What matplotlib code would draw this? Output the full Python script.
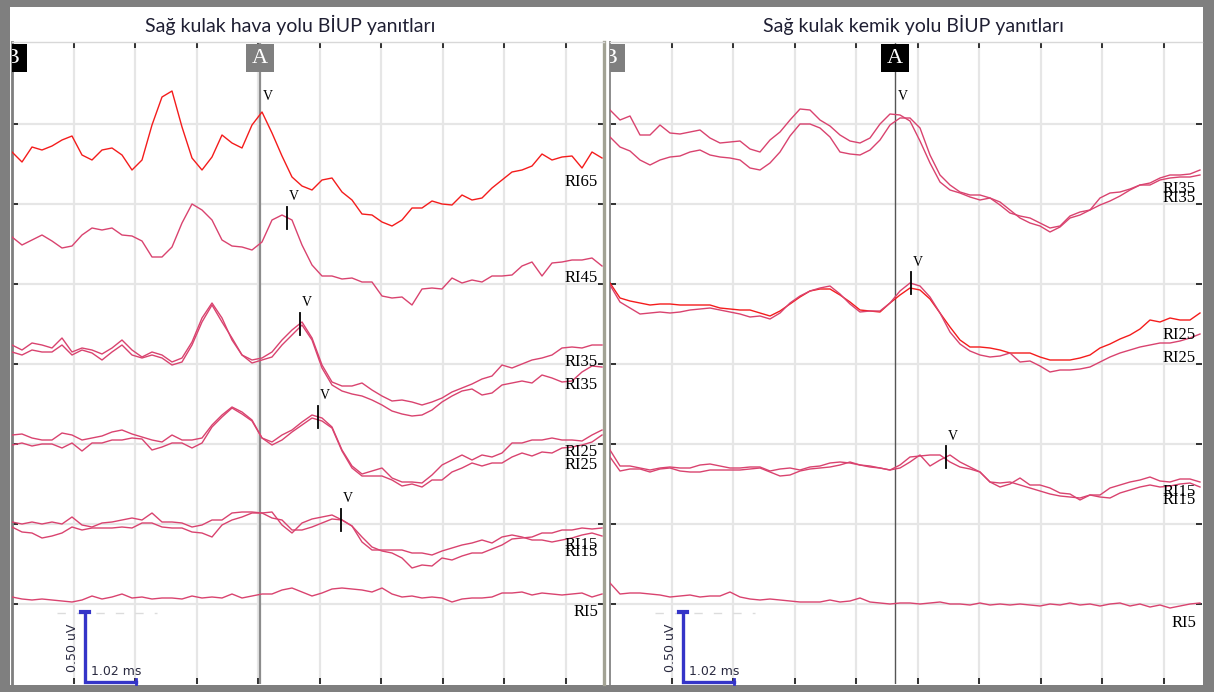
import numpy as np
import matplotlib.pyplot as plt
from matplotlib.patches import Rectangle

# sample times (ms), one reading every 0.2 ms
T_MS = np.arange(60) * 0.2

# --- air conduction (hava yolu) traces, vertical position in screen rows ---
air_ri65 = [152, 162, 147, 150, 146, 140, 136, 155, 160, 150,
            148, 155, 170, 160, 125, 97, 91, 127, 158, 170,
            157, 135, 143, 148, 125, 112, 133, 156, 177, 186,
            190, 180, 178, 192, 200, 214, 215, 222, 226, 220,
            208, 208, 201, 204, 205, 195, 200, 198, 188, 180,
            172, 170, 166, 154, 160, 157, 156, 168, 152, 158]
air_ri45 = [237, 245, 240, 235, 241, 248, 246, 235, 228, 230,
            228, 235, 236, 241, 257, 257, 247, 223, 204, 210,
            220, 240, 246, 247, 250, 242, 220, 215, 220, 245,
            265, 276, 276, 279, 278, 282, 282, 296, 298, 297,
            305, 289, 288, 289, 278, 283, 280, 282, 276, 276,
            275, 266, 262, 276, 263, 262, 260, 260, 258, 266]
air_ri35_a = [345, 350, 343, 345, 348, 338, 352, 348, 350, 354,
              348, 340, 350, 357, 352, 355, 362, 358, 342, 318,
              303, 318, 340, 355, 360, 358, 352, 340, 330, 322,
              338, 365, 382, 386, 386, 383, 390, 396, 401, 400,
              402, 405, 402, 398, 392, 388, 384, 379, 376, 365,
              368, 364, 360, 358, 355, 348, 347, 348, 345, 345]
air_ri35_b = [352, 355, 350, 352, 352, 345, 355, 350, 353, 360,
              352, 345, 355, 358, 355, 358, 365, 362, 345, 322,
              305, 322, 338, 355, 363, 360, 357, 345, 335, 325,
              340, 368, 385, 391, 394, 396, 400, 405, 411, 414,
              416, 415, 410, 402, 396, 391, 389, 395, 393, 385,
              383, 381, 383, 375, 378, 382, 381, 372, 366, 367]
air_ri25_a = [435, 434, 438, 440, 440, 433, 435, 440, 438, 436,
              432, 430, 434, 437, 440, 442, 435, 440, 440, 438,
              425, 415, 407, 412, 420, 438, 442, 435, 430, 422,
              415, 418, 427, 450, 466, 474, 471, 468, 478, 482,
              482, 483, 475, 465, 460, 455, 460, 455, 457, 453,
              443, 443, 440, 440, 438, 440, 440, 441, 435, 430]
air_ri25_b = [445, 443, 446, 444, 444, 448, 443, 451, 443, 443,
              440, 440, 438, 439, 450, 447, 443, 443, 448, 443,
              427, 417, 408, 414, 421, 438, 445, 440, 432, 425,
              418, 421, 428, 451, 468, 476, 476, 476, 480, 486,
              484, 487, 480, 480, 472, 468, 463, 466, 463, 463,
              457, 453, 456, 452, 453, 448, 447, 445, 442, 435]
air_ri15_a = [522, 524, 522, 524, 522, 524, 517, 525, 527, 523,
              522, 520, 518, 520, 513, 522, 522, 523, 527, 525,
              520, 520, 513, 512, 512, 513, 512, 525, 533, 523,
              519, 517, 515, 520, 526, 537, 547, 551, 553, 558,
              568, 565, 566, 558, 560, 556, 553, 553, 549, 545,
              539, 538, 537, 533, 533, 530, 530, 528, 529, 528]
air_ri15_b = [527, 532, 533, 538, 536, 533, 527, 530, 528, 528,
              528, 527, 528, 523, 523, 527, 528, 528, 532, 533,
              537, 525, 520, 517, 513, 513, 518, 520, 530, 530,
              527, 523, 519, 520, 526, 542, 550, 550, 550, 550,
              553, 553, 555, 551, 548, 545, 543, 540, 543, 537,
              535, 537, 540, 540, 542, 540, 538, 535, 533, 536]
air_ri5 = [597, 599, 600, 599, 600, 601, 602, 600, 596, 599,
           597, 594, 598, 597, 599, 598, 598, 599, 596, 598,
           597, 598, 594, 598, 596, 594, 594, 590, 588, 592,
           596, 593, 589, 588, 589, 590, 592, 588, 594, 597,
           596, 598, 597, 598, 602, 599, 598, 598, 597, 593,
           593, 592, 595, 593, 594, 595, 594, 593, 597, 594]

# --- bone conduction (kemik yolu) traces ---
bone_ri35_a = [110, 120, 116, 135, 135, 125, 133, 134, 132, 130,
               138, 143, 142, 141, 149, 152, 140, 132, 120, 109,
               110, 120, 126, 135, 141, 143, 138, 124, 114, 115,
               121, 141, 163, 182, 190, 193, 197, 200, 198, 205,
               213, 216, 218, 223, 228, 226, 216, 212, 210, 198,
               193, 192, 189, 185, 183, 178, 175, 175, 174, 170]
bone_ri35_b = [137, 147, 151, 160, 165, 160, 157, 156, 152, 150,
               155, 157, 158, 160, 168, 170, 163, 152, 136, 124,
               124, 128, 137, 152, 154, 155, 150, 140, 125, 118,
               118, 128, 155, 175, 185, 192, 195, 195, 198, 202,
               210, 218, 223, 226, 232, 227, 218, 215, 210, 205,
               201, 196, 190, 185, 185, 180, 178, 177, 177, 175]
bone_ri25_a = [283, 298, 301, 303, 305, 304, 304, 305, 305, 305,
               305, 308, 309, 310, 310, 313, 316, 311, 304, 297,
               291, 289, 289, 295, 302, 310, 311, 312, 303, 295,
               288, 290, 299, 313, 327, 340, 347, 347, 348, 350,
               353, 353, 353, 357, 360, 360, 360, 358, 355, 348,
               344, 339, 335, 329, 320, 322, 318, 320, 320, 313]
bone_ri25_b = [285, 302, 308, 314, 313, 312, 313, 312, 310, 309,
               308, 310, 312, 314, 317, 316, 319, 313, 303, 296,
               291, 288, 286, 294, 304, 312, 311, 311, 303, 291,
               283, 286, 297, 313, 332, 344, 351, 355, 357, 356,
               353, 362, 361, 366, 372, 370, 370, 369, 367, 362,
               357, 353, 350, 347, 345, 343, 343, 341, 338, 334]
bone_ri15_a = [450, 466, 466, 468, 470, 468, 467, 468, 468, 465,
               464, 466, 468, 468, 467, 467, 471, 469, 468, 470,
               467, 466, 463, 462, 463, 465, 467, 468, 470, 465,
               457, 456, 455, 455, 462, 467, 469, 472, 482, 483,
               482, 485, 488, 491, 494, 496, 497, 498, 495, 495,
               488, 485, 482, 480, 477, 481, 482, 479, 479, 482]
bone_ri15_b = [457, 471, 469, 469, 472, 469, 468, 471, 472, 472,
               470, 470, 470, 470, 469, 468, 472, 476, 475, 471,
               469, 468, 467, 465, 462, 465, 466, 468, 470, 468,
               462, 455, 466, 460, 455, 462, 467, 472, 482, 487,
               484, 478, 485, 485, 488, 493, 494, 500, 495, 497,
               498, 493, 490, 487, 485, 487, 486, 484, 483, 487]
bone_ri5 = [583, 594, 593, 593, 594, 595, 597, 596, 595, 597,
            596, 596, 592, 597, 599, 600, 599, 600, 601, 602,
            602, 602, 600, 602, 601, 598, 602, 603, 604, 603,
            603, 604, 603, 602, 604, 604, 605, 603, 605, 604,
            605, 604, 605, 606, 604, 605, 603, 605, 604, 606,
            604, 603, 606, 604, 607, 605, 608, 606, 604, 603]

# wave V latencies (ms) and whether a latency tick is drawn
AIR_V_MS = [4.96, 5.50, 5.76, 6.12, 6.58]
AIR_V_TICK = [False, True, True, True, True]
BONE_V_MS = [5.70, 6.02, 6.72]
BONE_V_TICK = [False, True, True]

SCALE_UV = "0.50 uV"
SCALE_MS = 1.02

RED = "#f41c1c"
PINK = "#d9436f"

# layout
W, H = 1214, 692
X_MAX = 11.84
ROW_TOP, ROW_BOTTOM = 42, 684
GRID_MS = 1.23
UV_BAR_ROWS = 71
AIR_LABEL_ROWS = [182, 278, 362, 385, 452, 465, 545, 552, 612]
BONE_LABEL_ROWS = [189, 198, 335, 358, 492, 500, 623]


def draw_panel(ax, groups, colors, label_rows, v_ms, v_tick, cursor_ms,
               cursor_col, cursor_lw, a_box_col, b_box_col):
    ax.set_xlim(0, X_MAX)
    ax.set_ylim(ROW_BOTTOM, ROW_TOP)
    ax.set_xticks(np.arange(1, 10) * GRID_MS)
    ax.set_yticks(np.arange(124, 605, 80))
    ax.grid(color="#e6e6e6", lw=1.6, zorder=0)
    ax.tick_params(direction="in", length=4.5, width=1.1, color="black",
                   top=True, right=True, labelleft=False, labelbottom=False)
    ax.set_axisbelow(True)

    k = 0
    for gi, (name, traces) in enumerate(groups):
        for tr in traces:
            ax.plot(T_MS, tr, color=colors[k], lw=1.0, zorder=3)
            ax.text(X_MAX - 0.12, label_rows[k], name, ha="right", va="center",
                    fontsize=12, family="Liberation Serif", color="black", zorder=5)
            k += 1
        if gi < len(v_ms):
            t = v_ms[gi]
            yv = min(np.interp(t, T_MS, tr) for tr in traces)
            if v_tick[gi]:
                ax.plot([t, t], [yv - 11, yv + 11], color="black", lw=1.3, zorder=5)
                ax.text(t + 0.13, yv - 21, "V", ha="center", va="center",
                        fontsize=10, family="Liberation Serif", zorder=5)
            else:
                ax.text(t + 0.16, yv - 18, "V", ha="center", va="center",
                        fontsize=10, family="Liberation Serif", zorder=5)

    # cursor A
    ax.axvline(cursor_ms, color=cursor_col, lw=cursor_lw, zorder=2.5)
    ax.add_patch(Rectangle((cursor_ms - 0.28, 44), 0.56, 28, facecolor=a_box_col,
                           edgecolor="none", zorder=6))
    ax.text(cursor_ms, 58.5, "A", ha="center", va="center", color="white",
            fontsize=16, family="Liberation Serif", zorder=7)
    # cursor B (mostly off the left edge)
    ax.add_patch(Rectangle((-0.3, 44), 0.6, 28, facecolor=b_box_col,
                           edgecolor="none", zorder=6))
    ax.text(0.0, 58.5, "B", ha="center", va="center", color="white",
            fontsize=16, family="Liberation Serif", zorder=7, clip_on=True)

    # scale bar
    bx, by0, by1 = 1.46, 612, 612 + UV_BAR_ROWS
    ax.plot([0.9, 2.9], [by0 + 1, by0 + 1], color="#dcdcdc", lw=1, ls=(0, (6, 8)), zorder=1)
    ax.plot([bx, bx, bx + SCALE_MS], [by0, by1 - 1, by1 - 1], color="#3434c8", lw=2.4,
            solid_joinstyle="miter", clip_on=False, zorder=6)
    ax.plot([bx - 0.08, bx + 0.08], [by0, by0], color="#3434c8", lw=3, clip_on=False, zorder=6)
    ax.plot([bx + SCALE_MS] * 2, [by1 - 4, by1 + 1], color="#3434c8", lw=2,
            clip_on=False, zorder=6)
    ax.text(bx - 0.25, by0 + 36, SCALE_UV, rotation=90, ha="center", va="center",
            fontsize=9, color="#2a2a40", zorder=6)
    ax.text(bx + 0.12, by1 - 12, f"{SCALE_MS:.2f} ms", ha="left", va="center",
            fontsize=9, color="#2a2a40", zorder=6)


fig = plt.figure(figsize=(W / 100, H / 100), dpi=100, facecolor="#7f7f7f")
fig.add_artist(Rectangle((10 / W, 7 / H), 1193 / W, 678 / H, transform=fig.transFigure,
                         facecolor="white", edgecolor="none", zorder=0))

ax_air = fig.add_axes([12 / W, 8 / H, 592 / W, 642 / H])
ax_bone = fig.add_axes([610 / W, 8 / H, 592 / W, 642 / H])

air_groups = [("RI65", [air_ri65]), ("RI45", [air_ri45]),
              ("RI35", [air_ri35_a, air_ri35_b]), ("RI25", [air_ri25_a, air_ri25_b]),
              ("RI15", [air_ri15_a, air_ri15_b]), ("RI5", [air_ri5])]
air_colors = [RED] + [PINK] * 8
draw_panel(ax_air, air_groups, air_colors, AIR_LABEL_ROWS, AIR_V_MS, AIR_V_TICK,
           4.96, "#8c8c8c", 1.6, "#7f7f7f", "black")

bone_groups = [("RI35", [bone_ri35_a, bone_ri35_b]), ("RI25", [bone_ri25_a, bone_ri25_b]),
               ("RI15", [bone_ri15_a, bone_ri15_b]), ("RI5", [bone_ri5])]
bone_colors = [PINK, PINK, RED, PINK, PINK, PINK, PINK]
draw_panel(ax_bone, bone_groups, bone_colors, BONE_LABEL_ROWS, BONE_V_MS, BONE_V_TICK,
           5.70, "#555555", 1.0, "black", "#7f7f7f")

for ax in (ax_air, ax_bone):
    ax.spines["bottom"].set_visible(False)
    ax.spines["top"].set_color("#d8d8d8")
    ax.spines["top"].set_linewidth(1)
ax_air.spines["left"].set_color("#7f7f7f")
ax_air.spines["left"].set_linewidth(2)
ax_air.spines["right"].set_color("#a2a294")
ax_air.spines["right"].set_linewidth(2.4)
ax_bone.spines["left"].set_color("#8c8c8c")
ax_bone.spines["left"].set_linewidth(1.4)
ax_bone.spines["right"].set_visible(False)

title_kw = dict(ha="center", va="center", fontsize=14, family=["Lato", "DejaVu Sans"],
                color="#1f1f33")
fig.text(290 / W, 1 - 25 / H, "Sağ kulak hava yolu BİUP yanıtları", **title_kw)
fig.text(913 / W, 1 - 25 / H, "Sağ kulak kemik yolu BİUP yanıtları", **title_kw)

fig.savefig("out.png", dpi=100, facecolor=fig.get_facecolor())
